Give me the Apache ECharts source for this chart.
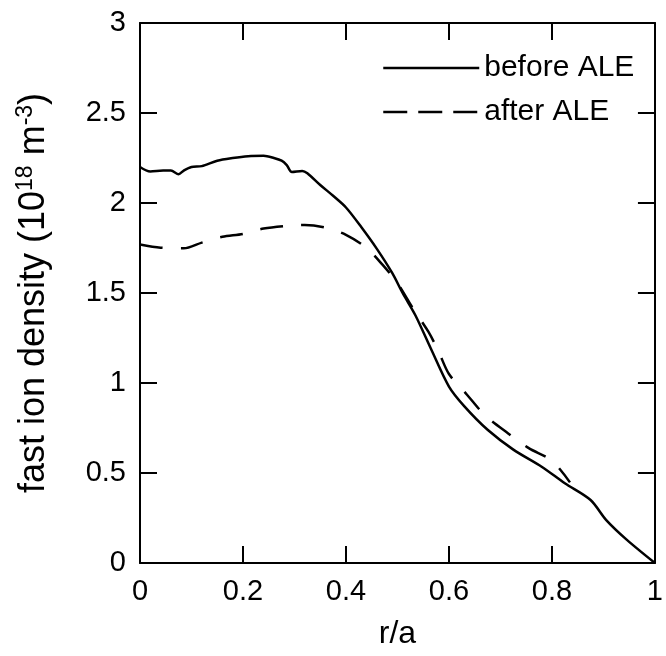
<!DOCTYPE html>
<html>
<head>
<meta charset="utf-8">
<script src="https://cdn.jsdelivr.net/npm/echarts@6/dist/echarts.min.js"></script>
<style>
html,body{margin:0;padding:0;background:#fff;}
#chart{width:666px;height:656px;}
</style>
</head>
<body>
<div id="chart"></div>
<script>
// ---- data ----
var seriesNames = ['before ALE', 'after ALE'];
var xTickLabels = ['0', '0.2', '0.4', '0.6', '0.8', '1'];
var yTickLabels = ['0', '0.5', '1', '1.5', '2', '2.5', '3'];

var beforeALE = [
  [0, 2.20], [0.02, 2.175], [0.045, 2.18], [0.06, 2.18], [0.075, 2.16], [0.085, 2.18],
  [0.1, 2.20], [0.12, 2.205], [0.15, 2.235], [0.18, 2.25], [0.21, 2.26], [0.24, 2.262],
  [0.26, 2.25], [0.275, 2.235], [0.285, 2.21], [0.295, 2.172], [0.315, 2.178], [0.325, 2.165],
  [0.35, 2.10], [0.375, 2.04], [0.40, 1.975], [0.43, 1.865], [0.46, 1.745], [0.49, 1.61],
  [0.51, 1.50], [0.535, 1.375], [0.565, 1.19], [0.60, 0.98], [0.63, 0.87], [0.675, 0.74],
  [0.725, 0.63], [0.78, 0.535], [0.825, 0.443], [0.875, 0.35], [0.905, 0.24], [0.945, 0.13],
  [1.0, 0.0]
];

var afterALE = [
  [0, 1.77], [0.04, 1.752], [0.085, 1.748], [0.12, 1.78], [0.16, 1.812], [0.2, 1.828],
  [0.24, 1.858], [0.28, 1.872], [0.32, 1.878], [0.36, 1.863], [0.40, 1.823], [0.44, 1.75],
  [0.47, 1.66], [0.50, 1.555], [0.53, 1.415], [0.56, 1.285], [0.58, 1.174], [0.60, 1.05],
  [0.635, 0.935], [0.67, 0.82], [0.715, 0.72], [0.755, 0.638], [0.80, 0.568], [0.835, 0.448]
];

var FONT = '"Liberation Sans", Arial, Helvetica, sans-serif';

var chart = echarts.init(document.getElementById('chart'), null, {renderer: 'canvas'});

function xFmt(v) {
  var i = Math.round(v / 0.2);
  return xTickLabels[i] !== undefined ? xTickLabels[i] : '';
}
function yFmt(v) {
  var i = Math.round(v / 0.5);
  return yTickLabels[i] !== undefined ? yTickLabels[i] : '';
}

var axisLineStyle = {color: '#000', width: 2};
var tickStyle = {color: '#000', width: 2};

var option = {
  backgroundColor: '#fff',
  animation: false,
  grid: {left: 140, right: 8, top: 23, bottom: 93, containLabel: false},
  legend: {
    orient: 'vertical',
    left: 377,
    top: 48,
    itemWidth: 96,
    itemHeight: 20,
    itemGap: 14,
    itemStyle: {opacity: 0},
    textStyle: {fontFamily: FONT, fontSize: 30, color: '#000'},
    data: [
      {name: seriesNames[0], itemStyle: {opacity: 0}, lineStyle: {color: '#000', width: 2.5, type: 'solid', opacity: 1}},
      {name: seriesNames[1], itemStyle: {opacity: 0}, lineStyle: {color: '#000', width: 2.5, type: [24, 11], opacity: 1}}
    ]
  },
  xAxis: [
    {
      type: 'value', min: 0, max: 1, interval: 0.2,
      name: 'r/a', nameLocation: 'middle', nameGap: 55,
      nameTextStyle: {fontFamily: FONT, fontSize: 32, color: '#000'},
      axisLine: {show: true, onZero: false, lineStyle: axisLineStyle},
      axisTick: {show: true, inside: true, length: 17, lineStyle: tickStyle},
      axisLabel: {fontFamily: FONT, fontSize: 29, color: '#000', margin: 14, formatter: xFmt},
      splitLine: {show: false}
    },
    {
      type: 'value', min: 0, max: 1, interval: 0.2, position: 'top',
      axisLine: {show: true, onZero: false, lineStyle: axisLineStyle},
      axisTick: {show: true, inside: true, length: 17, lineStyle: tickStyle},
      axisLabel: {show: false},
      splitLine: {show: false}
    }
  ],
  yAxis: [
    {
      type: 'value', min: 0, max: 3, interval: 0.5,
      name: '{a|fast ion density (10}{s|18}{a| m}{s|-3}{a|)}',
      nameLocation: 'middle', nameGap: 86,
      nameTextStyle: {
        fontFamily: FONT, fontSize: 36, color: '#000',
        rich: {
          a: {fontFamily: FONT, fontSize: 36, color: '#000'},
          s: {fontFamily: FONT, fontSize: 23, color: '#000', padding: [0, 0, 17, 0]}
        }
      },
      axisLine: {show: true, onZero: false, lineStyle: axisLineStyle},
      axisTick: {show: true, inside: true, length: 17, lineStyle: tickStyle},
      axisLabel: {fontFamily: FONT, fontSize: 29, color: '#000', margin: 14, formatter: yFmt},
      splitLine: {show: false}
    },
    {
      type: 'value', min: 0, max: 3, interval: 0.5, position: 'right',
      axisLine: {show: true, onZero: false, lineStyle: axisLineStyle},
      axisTick: {show: true, inside: true, length: 17, lineStyle: tickStyle},
      axisLabel: {show: false},
      splitLine: {show: false}
    }
  ],
  series: [
    {
      name: seriesNames[0], type: 'line', data: beforeALE,
      xAxisIndex: 0, yAxisIndex: 0,
      showSymbol: false, symbol: 'none', smooth: 0.3,
      lineStyle: {color: '#000', width: 2.5, type: 'solid'},
      itemStyle: {color: '#000'}
    },
    {
      name: seriesNames[1], type: 'line', data: afterALE,
      xAxisIndex: 0, yAxisIndex: 0,
      showSymbol: false, symbol: 'none', smooth: 0.3,
      lineStyle: {color: '#000', width: 2.5, type: [23, 18]},
      itemStyle: {color: '#000'}
    }
  ]
};

chart.setOption(option);
</script>
</body>
</html>
